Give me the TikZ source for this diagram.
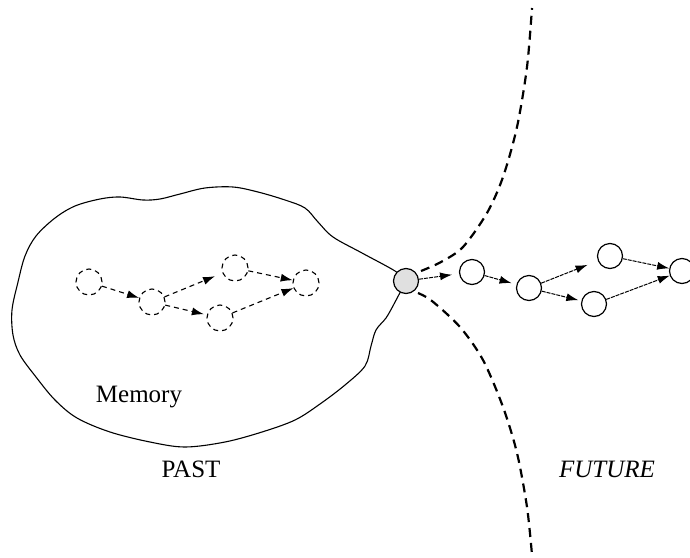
\documentclass[tikz,border=0pt]{standalone}
\usepackage{fontspec}
\setmainfont{Liberation Serif}
\usetikzlibrary{arrows.meta}
\begin{document}
\begin{tikzpicture}[x=1pt,y=-1pt,
  mem/.style={circle,draw,dashed,dash pattern=on 5pt off 4pt,line width=1.1pt,minimum size=26pt,inner sep=0pt},
  fut/.style={circle,draw,line width=1.2pt,minimum size=25pt,inner sep=0pt,fill=white},
  now/.style={circle,draw,line width=1.2pt,minimum size=25pt,inner sep=0pt,fill=black!12},
  memarrow/.style={dashed,dash pattern=on 5pt off 4pt,line width=1.1pt,-{Latex[length=12pt,width=8pt]}},
  futarrow/.style={line width=1pt,dash pattern=on 4pt off 1pt,-{Latex[length=12pt,width=8pt]}},
  border/.style={dashed,dash pattern=on 9pt off 6pt,line width=2.2pt},
  lbl/.style={font=\fontsize{25}{25}\selectfont,inner sep=0pt}]
\useasboundingbox (0,0) rectangle (690,557);
% memory blob
\draw[line width=1.1pt] plot[smooth,tension=0.55] coordinates {(406,281) (395,271) (362,253) (333,237) (318,222) (305,208) (285,200) (258,192) (233,187) (205,188) (180,194) (160,199) (143,200) (120,197) (100,199) (75,206) (55,218) (36,236) (25,256) (18,282) (12,310) (13,335) (20,355) (36,377) (55,400) (77,418) (110,432) (150,442) (185,447) (225,442) (262,432) (295,420) (320,404) (345,385) (365,366) (371,346) (376,330) (386,318) (394,304) (406,281)};
% boundary curves
\draw[border] plot[smooth] coordinates {(421,271) (441,262) (463,247) (487,213) (503,177) (517,127) (527,67) (532,8)};
\draw[border] plot[smooth] coordinates {(418,293) (432,301) (460,327) (483,360) (503,407) (517,453) (527,507) (532,555)};
% memory nodes
\node[mem] (d1) at (89,282) {};
\node[mem] (d2) at (152,302) {};
\node[mem] (d3) at (235,268) {};
\node[mem] (d4) at (220,318) {};
\node[mem] (d5) at (306,283) {};
\draw[memarrow] (d1) -- (d2);
\draw[memarrow,shorten >=8pt] (d2) -- (d3);
\draw[memarrow,shorten >=3pt] (d2) -- (d4);
\draw[memarrow] (d3) -- (d5);
\draw[memarrow] (d4) -- (d5);
% present and future
\node[now] (g) at (406,281) {};
\node[fut] (f1) at (472,272) {};
\node[fut] (f2) at (529,288) {};
\node[fut] (f3) at (610,256) {};
\node[fut] (f4) at (594,304) {};
\node[fut] (f5) at (682,271) {};
\draw[futarrow,shorten >=7pt] (g) -- (f1);
\draw[futarrow,shorten >=5pt] (f1) -- (f2);
\draw[futarrow,shorten >=11pt] (f2) -- (f3);
\draw[futarrow,shorten >=3pt] (f2) -- (f4);
\draw[futarrow] (f3) -- (f5);
\draw[futarrow] (f4) -- (f5);
% labels
\node[lbl,anchor=base] (mem) at (139,402) {Memory};
\node[lbl,anchor=base] (past) at (191,477) {PAST};
\node[lbl,anchor=base] (future) at (607,477) {\itshape FUTURE};
\end{tikzpicture}
\end{document}
